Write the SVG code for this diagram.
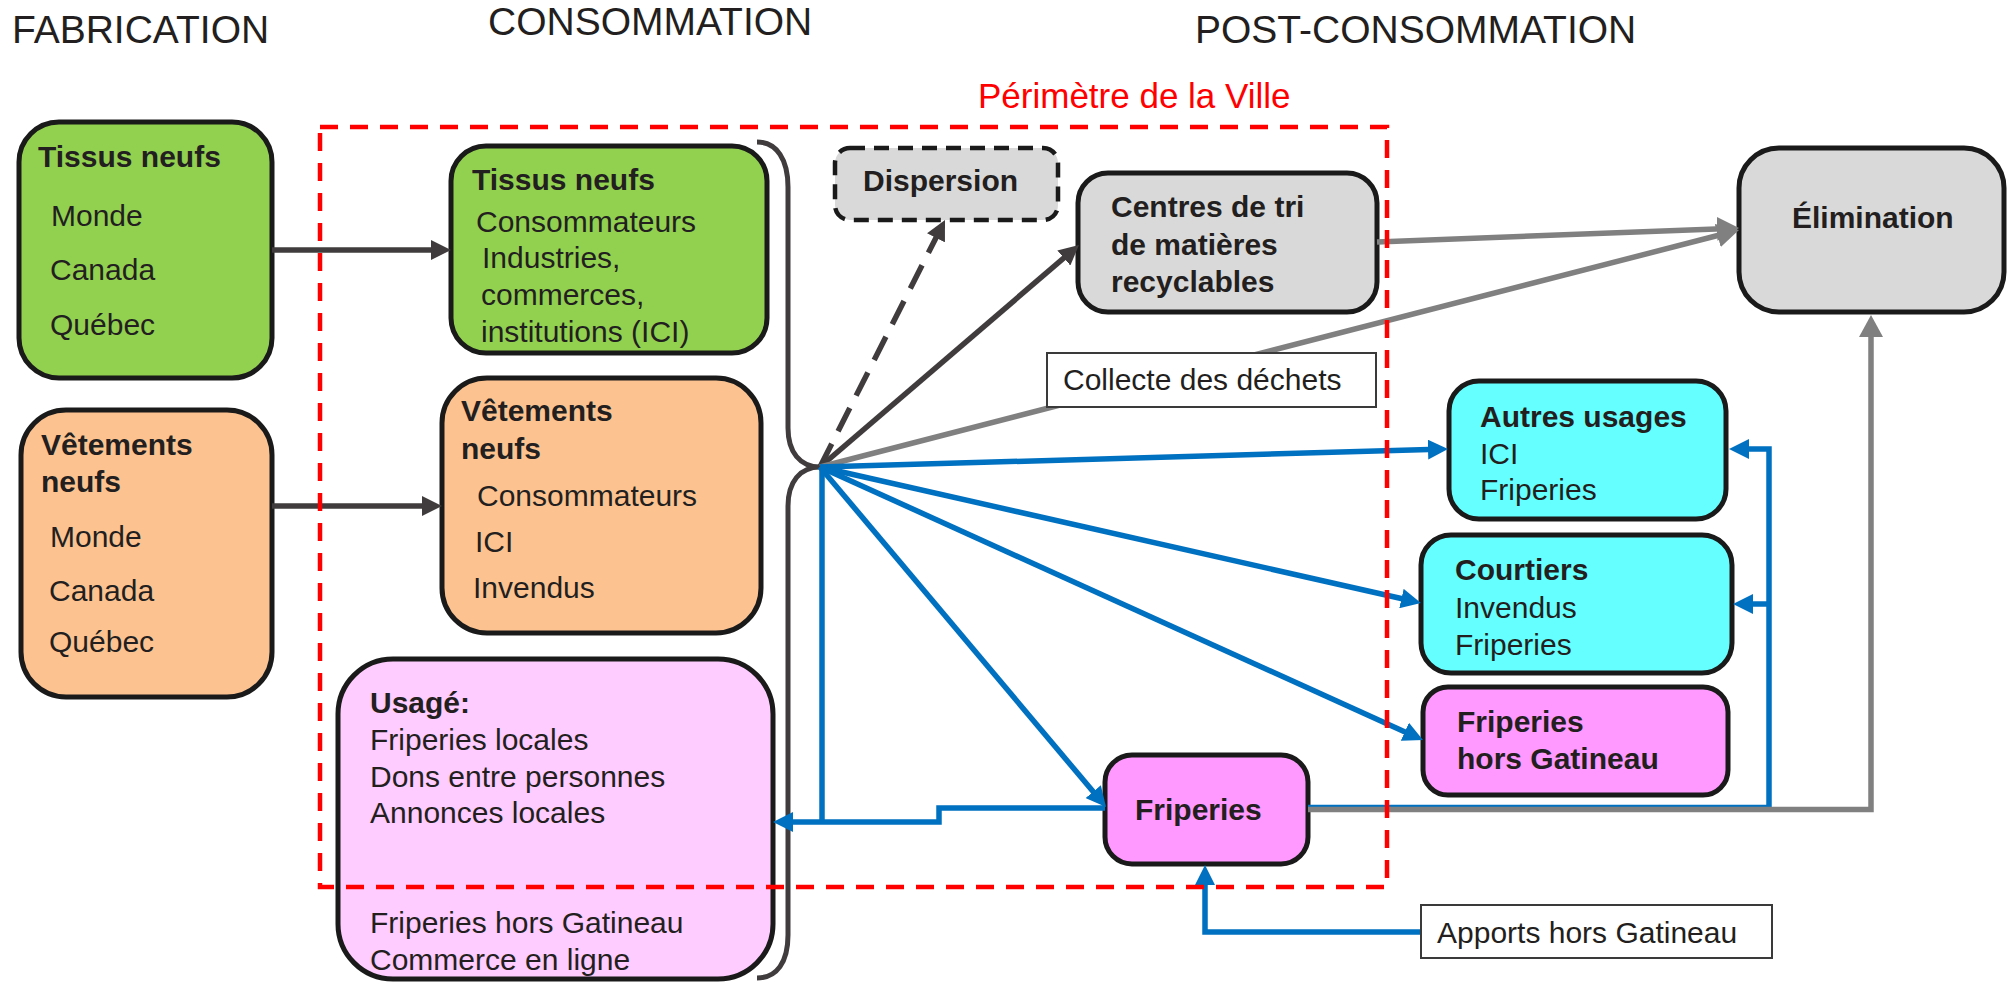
<svg xmlns="http://www.w3.org/2000/svg" width="2009" height="984" viewBox="0 0 2009 984">
<style>
.t{font-family:"Liberation Sans",Arial,Helvetica,sans-serif;font-size:30px;fill:#231f20}
.b{font-weight:bold}
.h{font-size:39px}
.box{stroke:#1a1a1a;stroke-width:5}
.lbl{fill:#fff;stroke:#3a3a3a;stroke-width:2}
.dark{stroke:#403c3d;stroke-width:5.5;fill:none}
.grey{stroke:#808080;stroke-width:5.5;fill:none}
.blue{stroke:#0070c0;stroke-width:5.5;fill:none}
.green{fill:#92d050}
.orange{fill:#fcc391}
.lpink{fill:#ffccff}
.pink{fill:#ff99ff}
.cyan{fill:#66ffff}
.gray{fill:#d9d9d9}
</style>
<defs>
<marker id="ahDark" viewBox="0 0 20 20" refX="10" refY="10" markerWidth="20" markerHeight="20" markerUnits="userSpaceOnUse" orient="auto"><path d="M0,0 L20,10 L0,20 z" fill="#403c3d"/></marker>
<marker id="ahBlue" viewBox="0 0 20 20" refX="10" refY="10" markerWidth="20" markerHeight="20" markerUnits="userSpaceOnUse" orient="auto"><path d="M0,0 L20,10 L0,20 z" fill="#0070c0"/></marker>
<marker id="ahGrey" viewBox="0 0 22 24" refX="12" refY="12" markerWidth="22" markerHeight="24" markerUnits="userSpaceOnUse" orient="auto"><path d="M0,0 L22,12 L0,24 z" fill="#808080"/></marker>
</defs>
<rect width="2009" height="984" fill="#fff"/>

<g id="headers">
<text class="t h" x="12" y="43">FABRICATION</text>
<text class="t h" x="488" y="35">CONSOMMATION</text>
<text class="t h" x="1195" y="43">POST-CONSOMMATION</text>
<text class="t" x="978" y="108" style="font-size:35px;fill:#ff0000">Périmètre de la Ville</text>
</g>

<g id="brace">
<path d="M757,142 C777,142 788,160 788,187 L788,428 C788,452 800,467 820,467 C800,467 788,482 788,506 L788,935 C788,962 777,978 757,978" fill="none" stroke="#403c3d" stroke-width="5"/>
</g>

<g id="fab-tissus">
<rect class="box green" x="19" y="122" width="253" height="256" rx="40"/>
<text class="t b" x="38" y="167">Tissus neufs</text>
<text class="t" x="51" y="226">Monde</text>
<text class="t" x="50" y="280">Canada</text>
<text class="t" x="50" y="335">Québec</text>
</g>

<g id="fab-vetements">
<rect class="box orange" x="21" y="410" width="251" height="287" rx="45"/>
<text class="t b" x="41" y="455">Vêtements</text>
<text class="t b" x="41" y="492">neufs</text>
<text class="t" x="50" y="547">Monde</text>
<text class="t" x="49" y="601">Canada</text>
<text class="t" x="49" y="652">Québec</text>
</g>

<g id="cons-tissus">
<rect class="box green" x="451" y="146" width="316" height="207" rx="35"/>
<text class="t b" x="472" y="190">Tissus neufs</text>
<text class="t" x="476" y="232">Consommateurs</text>
<text class="t" x="482" y="268">Industries,</text>
<text class="t" x="481" y="305">commerces,</text>
<text class="t" x="481" y="342">institutions (ICI)</text>
</g>

<g id="cons-vetements">
<rect class="box orange" x="442" y="378" width="319" height="255" rx="45"/>
<text class="t b" x="461" y="421">Vêtements</text>
<text class="t b" x="461" y="459">neufs</text>
<text class="t" x="477" y="506">Consommateurs</text>
<text class="t" x="475" y="552">ICI</text>
<text class="t" x="473" y="598">Invendus</text>
</g>

<g id="usage">
<rect class="box lpink" x="338" y="659" width="435" height="320" rx="55"/>
<text class="t b" x="370" y="713">Usagé:</text>
<text class="t" x="370" y="750">Friperies locales</text>
<text class="t" x="370" y="787">Dons entre personnes</text>
<text class="t" x="370" y="823">Annonces locales</text>
<text class="t" x="370" y="933">Friperies hors Gatineau</text>
<text class="t" x="370" y="970">Commerce en ligne</text>
</g>

<g id="dispersion">
<rect class="gray" x="835" y="148" width="223" height="72" rx="15" stroke="#1a1a1a" stroke-width="4.5" stroke-dasharray="15 9"/>
<text class="t b" x="863" y="191">Dispersion</text>
</g>

<g id="centres-tri">
<rect class="box gray" x="1078" y="173" width="299" height="139" rx="30"/>
<text class="t b" x="1111" y="217">Centres de tri</text>
<text class="t b" x="1111" y="255">de matières</text>
<text class="t b" x="1111" y="292">recyclables</text>
</g>

<g id="elimination">
<rect class="box gray" x="1739" y="148" width="265" height="164" rx="40"/>
<text class="t b" x="1792" y="228">Élimination</text>
</g>

<g id="autres-usages">
<rect class="box cyan" x="1449" y="381" width="277" height="138" rx="30"/>
<text class="t b" x="1480" y="427">Autres usages</text>
<text class="t" x="1480" y="464">ICI</text>
<text class="t" x="1480" y="500">Friperies</text>
</g>

<g id="courtiers">
<rect class="box cyan" x="1421" y="535" width="311" height="138" rx="30"/>
<text class="t b" x="1455" y="580">Courtiers</text>
<text class="t" x="1455" y="618">Invendus</text>
<text class="t" x="1455" y="655">Friperies</text>
</g>

<g id="friperies-hors">
<rect class="box pink" x="1423" y="687" width="305" height="108" rx="25"/>
<text class="t b" x="1457" y="732">Friperies</text>
<text class="t b" x="1457" y="769">hors Gatineau</text>
</g>

<g id="friperies">
<rect class="box pink" x="1105" y="755" width="203" height="109" rx="27"/>
<text class="t b" x="1135" y="820">Friperies</text>
</g>

<g id="connectors">
<line class="dark" x1="272" y1="250" x2="441" y2="250" marker-end="url(#ahDark)"/>
<line class="dark" x1="272" y1="506" x2="432" y2="506" marker-end="url(#ahDark)"/>
<line class="dark" x1="820" y1="467" x2="940.5" y2="228.9" stroke-dasharray="26 14" marker-end="url(#ahDark)"/>
<line class="dark" x1="820" y1="467" x2="1071.4" y2="251.5" marker-end="url(#ahDark)"/>
<line class="grey" x1="1377" y1="242" x2="1729" y2="228.4" marker-end="url(#ahGrey)"/>
<line class="grey" x1="820" y1="467" x2="1729.3" y2="232.5" marker-end="url(#ahGrey)"/>
<line class="blue" x1="820" y1="467" x2="1438" y2="449.3" marker-end="url(#ahBlue)"/>
<line class="blue" x1="820" y1="467" x2="1411.2" y2="600.8" marker-end="url(#ahBlue)"/>
<line class="blue" x1="820" y1="467" x2="1413.9" y2="735.9" marker-end="url(#ahBlue)"/>
<line class="blue" x1="820" y1="467" x2="1099.6" y2="799.3" marker-end="url(#ahBlue)"/>
<line class="blue" x1="822" y1="467" x2="822" y2="822"/>
<path class="blue" d="M1105,808 L939,808 L939,822 L783,822" marker-end="url(#ahBlue)"/>
<path class="blue" d="M1308,807.5 L1769,807.5 L1769,449 L1739,449" marker-end="url(#ahBlue)"/>
<path class="blue" d="M1769,604 L1743,604" marker-end="url(#ahBlue)"/>
<path class="grey" d="M1308,809.5 L1871,809.5 L1871,325" marker-end="url(#ahGrey)"/>
<path class="blue" d="M1421,932 L1205,932 L1205,875" marker-end="url(#ahBlue)"/>
</g>

<g id="collecte">
<rect class="lbl" x="1047" y="353" width="329" height="54"/>
<text class="t" x="1063" y="390">Collecte des déchets</text>
</g>

<g id="apports">
<rect class="lbl" x="1421" y="905" width="351" height="53"/>
<text class="t" x="1437" y="943">Apports hors Gatineau</text>
</g>

<g id="perimetre">
<rect x="320" y="127" width="1067" height="760" fill="none" stroke="#ff0000" stroke-width="4.5" stroke-dasharray="18 12"/>
</g>
</svg>
